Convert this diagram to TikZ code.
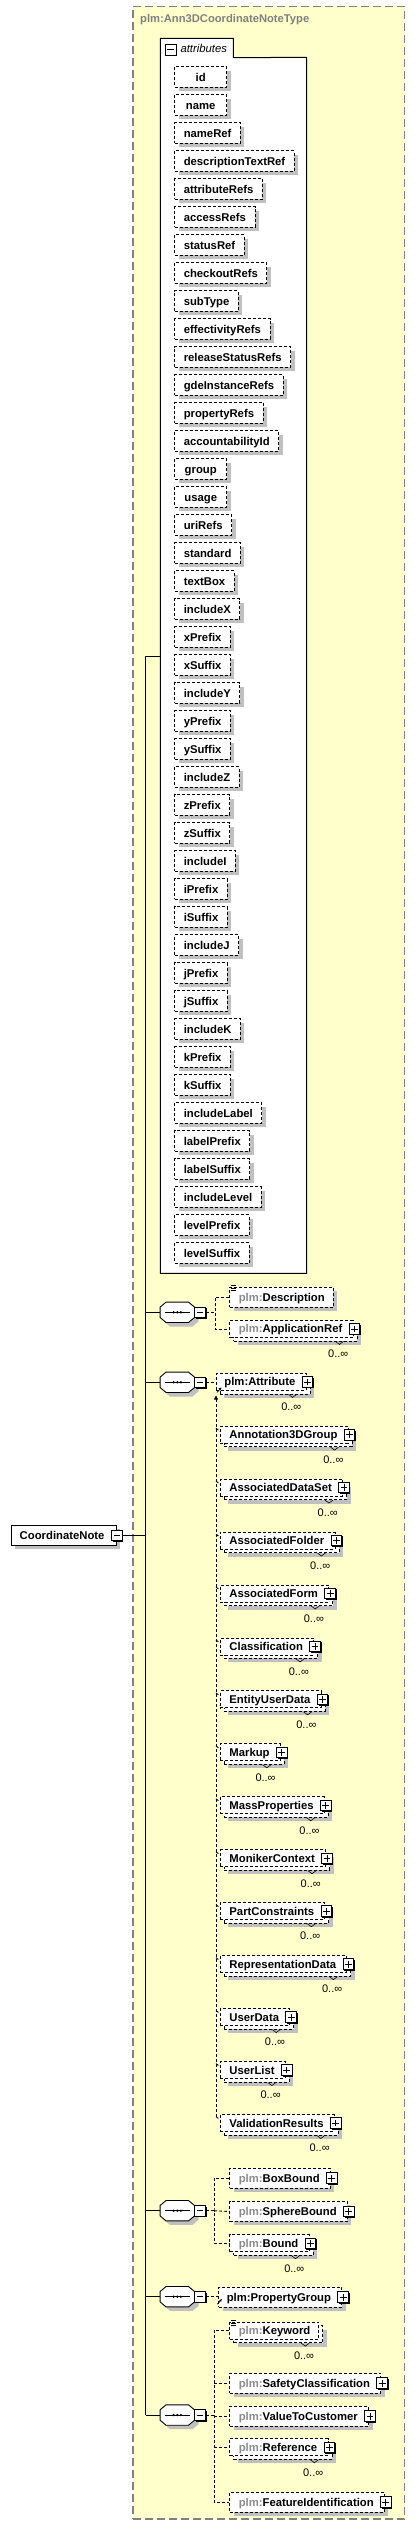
\documentclass[tikz,border=0pt]{standalone}
\usepackage{fontspec}
\setmainfont{Liberation Sans}
\usetikzlibrary{shadows,arrows.meta,calc}
\definecolor{bgyellow}{RGB}{255,255,204}
\definecolor{bordergray}{RGB}{128,128,128}
\definecolor{shgray}{RGB}{192,192,192}
\definecolor{pfxgray}{RGB}{140,140,140}
\definecolor{titlegray}{RGB}{128,128,128}
\newcommand{\bfs}{\fontsize{11.3}{13}\selectfont\bfseries}
\newcommand{\occfont}{\fontsize{11}{13}\selectfont}
\newcommand{\plmpre}{\textcolor{pfxgray}{plm:}}
\newcommand{\elwp}[1]{\hspace*{9pt}#1\hspace*{10.7pt}}
\newcommand{\elnp}[1]{\hspace*{9pt}#1\hspace*{8.5pt}}
\newcommand{\eqicon}[1]{\draw[line width=0.7pt] ($(#1.north west)+(1.4,-1)$) -- ++(5,0) ($(#1.north west)+(1.4,1.2)$) -- ++(5,0) ($(#1.north west)+(1.4,3.4)$) -- ++(5,0);}
\newcommand{\occtick}[1]{\draw[line width=0.6pt] ($(#1.south east)+(-18,3.5)$) -- ++(4,3) -- ++(4,-3);}
\newcommand{\seqoct}[3]{%
  \node[seqcore] (#1) at (#2,#3) {};
  \draw[seqline] ([xshift=6pt]#1.north west) -- ([xshift=-6pt]#1.north east) -- ([yshift=-5pt]#1.north east) -- ([yshift=5pt]#1.south east) -- ([xshift=-6pt]#1.south east) -- ([xshift=6pt]#1.south west) -- ([yshift=5pt]#1.south west) -- ([yshift=-5pt]#1.north west) -- cycle;
  \draw[line width=1pt] ([xshift=4.5pt]#1.west) -- ([xshift=-4.5pt]#1.east);
  \foreach \dx in {-3.6,0,3.6} \fill ([xshift=\dx pt]#1.center) circle (1.3pt);
  \node[minusbox] (#1m) at ([xshift=5.5pt]#1.east) {};
}
\begin{document}
\begin{tikzpicture}[x=1pt,y=-1pt,
  dsh/.style={dash pattern=on 3pt off 2pt},
  dconn/.style={draw=black,line width=0.9pt,dash pattern=on 3pt off 2pt},
  conn/.style={draw=black,line width=1pt},
  shad/.style={drop shadow={shadow xshift=4pt,shadow yshift=-4pt,opacity=1,fill=shgray}},
  attrbox/.style={draw=black,dsh,fill=white,line width=0.9pt,shad,anchor=north west,minimum height=20.4pt,minimum width=52pt,inner xsep=9pt,inner ysep=0pt,text height=9.4pt,text depth=1pt,font=\bfs},
  elembase/.style={draw=black,dsh,fill=white,line width=0.9pt,anchor=north west,inner xsep=0pt,inner ysep=0pt,text height=9pt,text depth=1pt,font=\bfs},
  elem/.style={elembase,minimum height=20pt,shad},
  elemstack/.style={elembase,minimum height=17pt,
    drop shadow={shadow xshift=8pt,shadow yshift=-7.5pt,opacity=1,fill=shgray},
    general shadow={shadow xshift=4pt,shadow yshift=-3.5pt,fill=white,draw=black,dash pattern=on 3pt off 2pt,line width=0.9pt}},
  rootbox/.style={draw=black,fill=white,line width=0.9pt,shad,anchor=north west,minimum height=20pt,inner xsep=0pt,inner ysep=0pt,text height=9pt,text depth=1pt,font=\bfs},
  pm/.style={draw=black,fill=white,minimum size=10.6pt,inner sep=0pt,line width=0.9pt,general shadow={shadow xshift=1.2pt,shadow yshift=-1.2pt,fill=black}},
  plusbox/.style={pm,path picture={\draw[line width=0.9pt] ([xshift=-3.4pt]path picture bounding box.center) -- ([xshift=3.4pt]path picture bounding box.center) ([yshift=-3.4pt]path picture bounding box.center) -- ([yshift=3.4pt]path picture bounding box.center);}},
  minusbox/.style={pm,path picture={\draw[line width=0.9pt] ([xshift=-3.4pt]path picture bounding box.center) -- ([xshift=3.4pt]path picture bounding box.center);}},
  seqcore/.style={minimum width=34pt,minimum height=20pt,inner sep=0pt},
  seqline/.style={draw=black,fill=white,line width=0.9pt,shad},
  occ/.style={anchor=east,inner sep=0pt,font=\occfont},
  refarrow/.style={-{Stealth[length=3pt,width=3pt]},line width=0.8pt}
]
\useasboundingbox (0,0) rectangle (415,2533);
% outer type box
\node[draw=bordergray,dash pattern=on 8pt off 4pt,fill=bgyellow,line width=1.3pt,anchor=north west,minimum width=271.7pt,minimum height=2512.6pt,inner sep=0pt] (outer) at (132.3,5.7) {};
\node[anchor=base west,inner sep=0pt,font=\fontsize{11.2}{13}\selectfont\bfseries,text=titlegray] (title) at (140,22.5) {plm:Ann3DCoordinateNoteType};
% attributes container
\node[minimum width=72.7pt,minimum height=19pt,inner sep=0pt,anchor=north west] (attrtab) at (160.3,38.3) {};
\node[minimum width=146pt,minimum height=1215.7pt,inner sep=0pt,anchor=north west] (attrbody) at (160.3,57.3) {};
\draw[fill=white,line width=1pt] (attrtab.south west) -- (attrtab.north west) -- (attrtab.north east) -- (attrtab.south east) -- (attrbody.north east) -- (attrbody.south east) -- (attrbody.south west) -- cycle;
\node[minusbox] (attrm) at (170.7,49.7) {};
\node[anchor=base west,inner sep=0pt,font=\fontsize{11.3}{13}\selectfont\itshape] (attrlbl) at (180.3,52.5) {attributes};
\foreach \t [count=\i from 0] in {id,name,nameRef,descriptionTextRef,attributeRefs,accessRefs,statusRef,checkoutRefs,subType,effectivityRefs,releaseStatusRefs,gdeInstanceRefs,propertyRefs,accountabilityId,group,usage,uriRefs,standard,textBox,includeX,xPrefix,xSuffix,includeY,yPrefix,ySuffix,includeZ,zPrefix,zSuffix,includeI,iPrefix,iSuffix,includeJ,jPrefix,jSuffix,includeK,kPrefix,kSuffix,includeLabel,labelPrefix,labelSuffix,includeLevel,levelPrefix,levelSuffix}
  \node[attrbox] (at\i) at (174.3,{66.3+28*\i}) {\t};
% root element
\node[rootbox] (cn) at (10.7,1525) {\hspace*{8.6pt}CoordinateNote\hspace*{11.7pt}};
\node[minusbox] (cnm) at ([xshift=0.3pt]cn.east) {};
% trunk
\coordinate (tA) at (145.7,656);
\seqoct{s1}{177.3}{1312.3}
\seqoct{s2}{177.3}{1382.3}
\seqoct{s3}{177.3}{2210.7}
\seqoct{s4}{177.3}{2296.7}
\seqoct{s5}{177.3}{2415}
\draw[conn] (tA) -- (tA |- s5.west);
\draw[conn] (tA) -- (tA -| attrbody.west);
\draw[conn] (cnm.east) -- (cnm.east -| tA);
\foreach \s in {s1,s2,s3,s4,s5} \draw[conn] (tA |- \s.west) -- (\s.west);
% sequence 1
\coordinate (j1) at (215,1312.3);
\node[elem] (desc) at (229.3,1286.7) {\elnp{\plmpre Description}};
\eqicon{desc}
\node[elemstack] (appref) at (229.3,1320) {\elwp{\plmpre ApplicationRef}};
\node[plusbox] (appref-p) at ([xshift=1pt]appref.east) {};
\node[occ] (appref-o) at ([xshift=-5pt,yshift=-16pt]appref.south east) {0..∞};
\occtick{appref}
\draw[dconn] (s1m.east) -- (j1);
\draw[dconn] (desc.west) -| (j1) |- (appref.west);
% sequence 2
\node[elemstack] (attr) at (216,1373) {\hspace*{8pt}plm:Attribute\hspace*{10.7pt}};
\node[plusbox] (attr-p) at ([xshift=1pt]attr.east) {};
\node[occ] (attr-o) at ([xshift=-5pt,yshift=-16pt]attr.south east) {0..∞};
\occtick{attr}
\draw[refarrow] ($(attr.south west)+(1,1.5)$) -- ++(4.5,-5);
\draw[dconn] (s2m.east) -- (s2m.east -| attr.west);
\coordinate (svtop) at (216,1395.5);
\coordinate (svbot) at (216,2116.7);
\draw[dconn,{Triangle[length=4pt,width=4pt]}-] (svtop) -- (svbot);
\foreach \nm/\t [count=\i from 0] in {ann/Annotation3DGroup,ads/AssociatedDataSet,afo/AssociatedFolder,afm/AssociatedForm,cls/Classification,eud/EntityUserData,mku/Markup,mps/MassProperties,mnc/MonikerContext,pco/PartConstraints,rpd/RepresentationData,usd/UserData,usl/UserList,vlr/ValidationResults}{
  \node[elemstack] (\nm) at (220,{1425.7+52.95*\i}) {\elwp{\t}};
  \node[plusbox] (\nm-p) at ([xshift=1pt]\nm.east) {};
  \node[occ] (\nm-o) at ([xshift=-5pt,yshift=-16pt]\nm.south east) {0..∞};
  \occtick{\nm}
  \draw[dconn] ($(svtop |- \nm.north west)+(0,2.5)$) -- ($(\nm.north west)+(0,5.5)$);
}
% sequence 3
\coordinate (j3) at (214,2210.7);
\node[elem] (boxb) at (229.3,2167.7) {\elwp{\plmpre BoxBound}};
\node[plusbox] (boxb-p) at ([xshift=1pt]boxb.east) {};
\node[elem] (sphb) at (229.3,2201) {\elwp{\plmpre SphereBound}};
\node[plusbox] (sphb-p) at ([xshift=1pt]sphb.east) {};
\node[elemstack] (bnd) at (229.3,2234.3) {\elwp{\plmpre Bound}};
\node[plusbox] (bnd-p) at ([xshift=1pt]bnd.east) {};
\node[occ] (bnd-o) at ([xshift=-5pt,yshift=-16pt]bnd.south east) {0..∞};
\occtick{bnd}
\draw[dconn] (s3m.east) -- (j3);
\draw[dconn] (boxb.west) -| (j3) |- (bnd.west);
\draw[dconn] (j3) -- (sphb.west);
% sequence 4
\node[elem] (pgrp) at (218.3,2286.7) {\hspace*{8pt}plm:PropertyGroup\hspace*{10.7pt}};
\node[plusbox] (pgrp-p) at ([xshift=1pt]pgrp.east) {};
\draw[refarrow] ($(pgrp.south west)+(-1,-3.5)$) -- ++(4.5,-5);
\draw[dconn] (s4m.east) -- (s4m.east -| pgrp.west);
% sequence 5
\coordinate (j5) at (214,2415);
\node[elemstack] (kw) at (229.3,2321.7) {\elnp{\plmpre Keyword}};
\eqicon{kw}
\node[occ] (kw-o) at ([xshift=-5pt,yshift=-16pt]kw.south east) {0..∞};
\occtick{kw}
\node[elem] (safe) at (229.3,2372.7) {\elwp{\plmpre SafetyClassification}};
\node[plusbox] (safe-p) at ([xshift=1pt]safe.east) {};
\node[elem] (v2c) at (229.3,2405.7) {\elwp{\plmpre ValueToCustomer}};
\node[plusbox] (v2c-p) at ([xshift=1pt]v2c.east) {};
\node[elemstack] (refr) at (229.3,2438.3) {\elwp{\plmpre Reference}};
\node[plusbox] (refr-p) at ([xshift=1pt]refr.east) {};
\node[occ] (refr-o) at ([xshift=-5pt,yshift=-16pt]refr.south east) {0..∞};
\occtick{refr}
\node[elem] (feat) at (229.3,2491.7) {\elwp{\plmpre FeatureIdentification}};
\node[plusbox] (feat-p) at ([xshift=1pt]feat.east) {};
\draw[dconn] (s5m.east) -- (j5);
\draw[dconn] (kw.west) -| (j5) |- (feat.west);
\draw[dconn] (j5 |- safe.west) -- (safe.west);
\draw[dconn] (j5 |- v2c.west) -- (v2c.west);
\draw[dconn] (j5 |- refr.west) -- (refr.west);
\end{tikzpicture}
\end{document}
